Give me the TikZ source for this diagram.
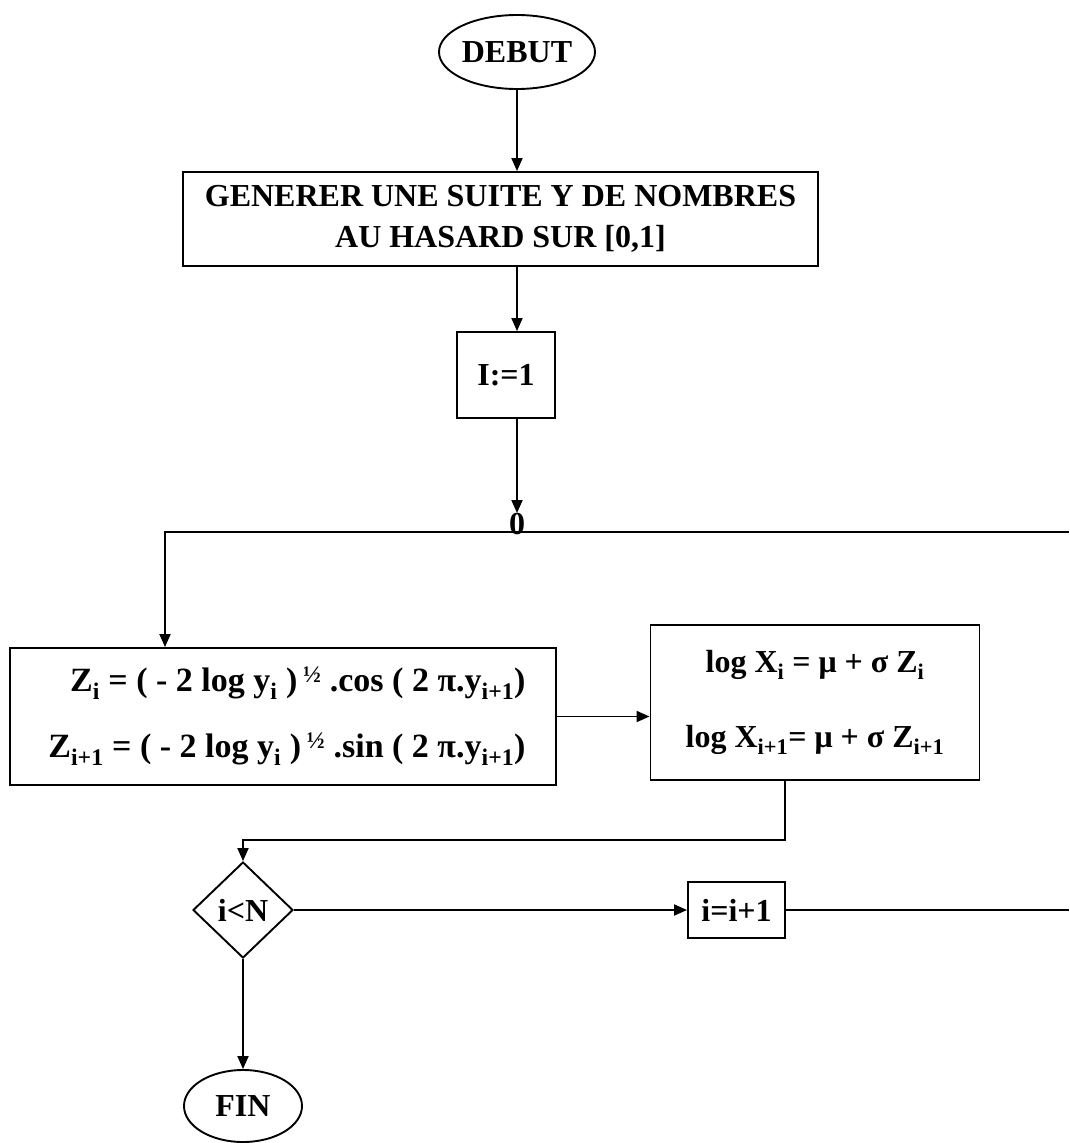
\documentclass[tikz,border=0pt]{standalone}
\usepackage{fontspec}
\setmainfont{Liberation Serif}
\usetikzlibrary{shapes.geometric,arrows.meta}
\tikzset{
  base/.style={draw, line width=1.9pt, font=\fontsize{32}{41}\selectfont\bfseries, inner sep=0pt},
  procbox/.style={base, rectangle},
  termbox/.style={base, ellipse},
  decbox/.style={base, diamond},
  flow/.style={line width=1.9pt, -{Triangle[length=13pt,width=11pt]}},
  link/.style={line width=1.9pt},
}
\begin{document}
\begin{tikzpicture}[x=1pt,y=1pt]
\useasboundingbox (0,0) rectangle (1069,-1143);
\node[termbox, minimum width=156pt, minimum height=74pt] (debut) at (517,-52) {DEBUT};
\node[procbox, minimum width=635pt, minimum height=94pt, align=center] (gen) at (500.5,-219)
  {GENERER UNE SUITE Y DE NOMBRES\\AU HASARD SUR [0,1]};
\node[procbox, minimum width=98pt, minimum height=86pt] (init) at (506,-375) {I:=1};
\node[inner sep=0pt, font=\fontsize{32}{41}\selectfont\bfseries] (zero) at (517,-524) {0};
\node[procbox, minimum width=546pt, minimum height=137pt, align=right,
      font=\fontsize{34}{42}\selectfont\bfseries] (zbox) at (283,-716.5)
  {\hspace*{8pt}Z\textsubscript{i} = ( - 2 log y\textsubscript{i} )\,\textsuperscript{½} .cos ( 2 π.y\textsubscript{i+1})\\[24pt]
   \hspace*{8pt}Z\textsubscript{i+1} = ( - 2 log y\textsubscript{i} )\,\textsuperscript{½} .sin ( 2 π.y\textsubscript{i+1})};
\node[procbox, minimum width=329pt, minimum height=155pt, align=center] (lbox) at (815,-702.5)
  {log X\textsubscript{i} = μ + σ Z\textsubscript{i}\\[34pt]
   log X\textsubscript{i+1}= μ + σ Z\textsubscript{i+1}};
\node[decbox, minimum width=100pt, minimum height=96pt] (cond) at (243,-910) {i<N};
\node[procbox, minimum width=97pt, minimum height=56pt] (inc) at (736.5,-910) {i=i+1};
\node[termbox, minimum width=118pt, minimum height=72pt] (fin) at (243,-1106) {FIN};
\coordinate (rtop) at (1069,-532);
\coordinate (kA) at (165,-532);
\coordinate (kB) at (785,-840);
\coordinate (rbot) at (1069,-910);
\draw[flow] (debut.south) -- (debut.south |- gen.north);
\draw[flow] (debut.south |- gen.south) -- (debut.south |- init.north);
\draw[flow] (debut.south |- init.south) -- (zero.north);
\draw[flow] (rtop) -- (kA) -- (kA |- zbox.north);
\draw[flow] (zbox.east) -- (zbox.east -| lbox.west);
\draw[flow] (kB |- lbox.south) -- (kB) -- (kB -| cond.north) -- (cond.north);
\draw[flow] (cond.east) -- (inc.west);
\draw[link] (inc.east) -- (rbot);
\draw[flow] (cond.south) -- (fin.north);
\end{tikzpicture}
\end{document}
